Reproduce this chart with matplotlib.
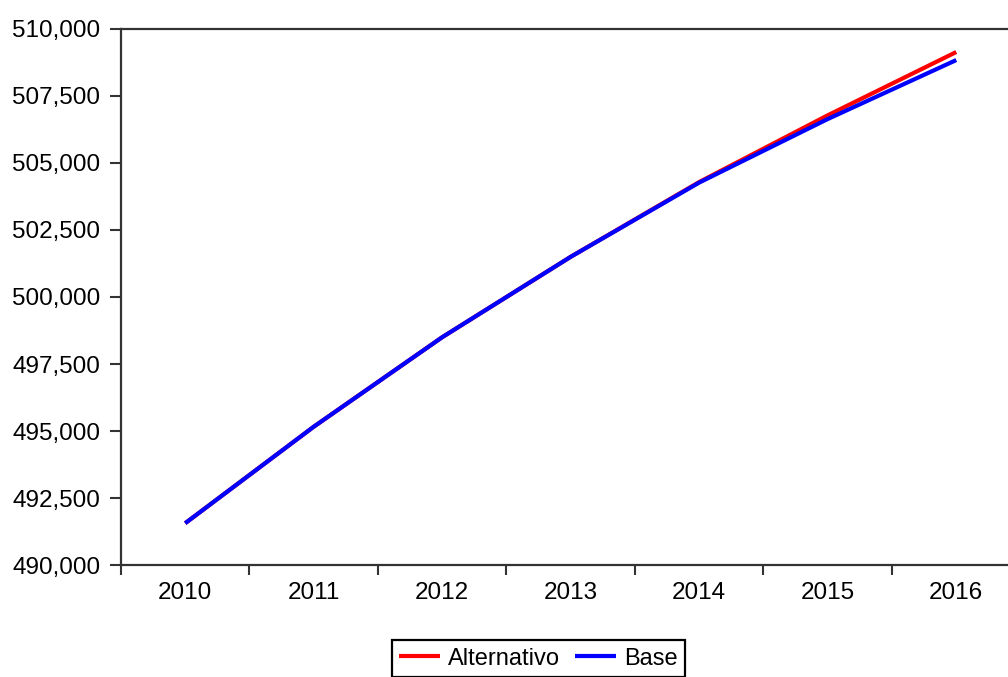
import matplotlib.pyplot as plt
from matplotlib.ticker import FuncFormatter, FixedLocator

plt.rcParams['font.family'] = ['Liberation Sans', 'DejaVu Sans']

# values
years = [2010, 2011, 2012, 2013, 2014, 2015, 2016]
alternativo = [491560, 495160, 498500, 501500, 504290, 506780, 509140]
base = [491560, 495160, 498500, 501500, 504270, 506640, 508840]
y_ticks = [490000, 492500, 495000, 497500, 500000, 502500, 505000, 507500, 510000]

fig = plt.figure(figsize=(10.08, 6.77), dpi=100)
ax = fig.add_axes([0.12, 0.1654, 0.8924, 0.7918])

ax.plot(years, alternativo, color='#ff0000', lw=3.0, label='Alternativo', solid_capstyle='butt')
ax.plot(years, base, color='#0000ff', lw=3.0, label='Base', solid_capstyle='butt')

ax.set_xlim(years[0] - 0.5, years[-1] + 0.5)
ax.set_ylim(490000, 510000)
ax.set_yticks(y_ticks)
ax.yaxis.set_major_formatter(FuncFormatter(lambda v, p: f'{v:,.0f}'))

# tick marks between years, labels at year centres
ax.xaxis.set_major_locator(FixedLocator([y - 0.5 for y in years] + [years[-1] + 0.5]))
ax.xaxis.set_major_formatter(FuncFormatter(lambda v, p: ''))
ax.set_xticks(years, [str(y) for y in years], minor=True)

ax.tick_params(axis='y', direction='out', length=8, width=1.5, color='#333333',
               labelsize=17.5, pad=7)
ax.tick_params(axis='x', which='major', direction='out', length=7.5, width=1.5, color='#333333')
ax.tick_params(axis='x', which='minor', length=0, labelsize=17.5, pad=12)

for s in ax.spines.values():
    s.set_linewidth(1.6)
    s.set_color('#333333')

leg = fig.legend(loc='upper center', bbox_to_anchor=(0.534, 0.054), ncol=2, fontsize=17,
                 frameon=True, fancybox=False, edgecolor='black', framealpha=1,
                 handlelength=1.75, handletextpad=0.35, columnspacing=0.6,
                 borderpad=0.3, borderaxespad=0)
leg.get_frame().set_linewidth(1.6)

fig.savefig('out.png', dpi=100)
